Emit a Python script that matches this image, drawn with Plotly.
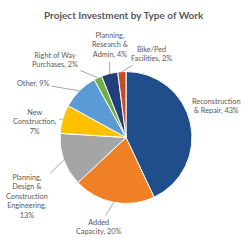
import math
import plotly.graph_objects as go

categories = ["Reconstruction & Repair", "Added Capacity",
              "Planning, Design & Construction Engineering", "New Construction",
              "Other", "Right of Way Purchases", "Planning, Research & Admin",
              "Bike/Ped Facilities"]
values = [43, 20, 13, 7, 9, 2, 4, 2]
label_texts = ["Reconstruction<br>& Repair, 43%", "Added<br>Capacity, 20%",
               "Planning,<br>Design &<br>Construction<br>Engineering,<br>13%",
               "New<br>Construction,<br>7%", "Other, 9%",
               "Right of Way<br>Purchases, 2%", "Planning,<br>Research &<br>Admin, 4%",
               "Bike/Ped<br>Facilities, 2%"]
colors = ["#1F4E8A", "#F08025", "#A5A5A5", "#FFC000", "#5B9BD5", "#70AD47",
          "#213F78", "#C0502A"]
# label centre positions in pixels (x, y from top)
label_pos = [(216, 106), (99, 227), (27, 196), (35, 122), (33, 83),
             (55, 60), (110, 45), (151, 54)]
show_line = [False, True, True, True, True, True, True, True]

W, H = 248, 247
cx, cy, r = 126, 137.5, 66

fig = go.Figure(go.Pie(
    labels=categories, values=values, sort=False, direction="clockwise",
    rotation=0, textinfo="none", hoverinfo="label+percent",
    marker=dict(colors=colors, line=dict(color="white", width=1)),
    domain=dict(x=[(cx - r) / W, (cx + r) / W], y=[1 - (cy + r) / H, 1 - (cy - r) / H]),
    showlegend=False,
))

font = dict(family="Lato", size=7.3, color="#595959")
total = sum(values)
cum = 0
annotations = []
for v, txt, (lx, ly), sl in zip(values, label_texts, label_pos, show_line):
    mid = (cum + v / 2) / total * 2 * math.pi
    cum += v
    ex = cx + r * math.sin(mid)
    ey = cy - r * math.cos(mid)
    if sl:
        annotations.append(dict(
            x=ex / W, y=1 - ey / H, xref="paper", yref="paper",
            ax=lx - ex, ay=ly - ey, text=txt, showarrow=True, arrowhead=0,
            arrowwidth=1, arrowcolor="#A6A6A6", standoff=0, startstandoff=1,
            font=font, align="center"))
    else:
        annotations.append(dict(
            x=lx / W, y=1 - ly / H, xref="paper", yref="paper", text=txt,
            xanchor="center", yanchor="middle",
            showarrow=False, font=font, align="center"))

annotations.append(dict(x=124 / W, y=1 - 7 / H, xref="paper", yref="paper",
                        text="<b>Project Investment by Type of Work</b>", showarrow=False,
                        font=dict(family="Lato", size=10, color="#595959")))

fig.update_layout(width=W, height=H, margin=dict(l=0, r=0, t=0, b=0),
                  paper_bgcolor="white", plot_bgcolor="white",
                  annotations=annotations)
fig.write_html("out.html")
